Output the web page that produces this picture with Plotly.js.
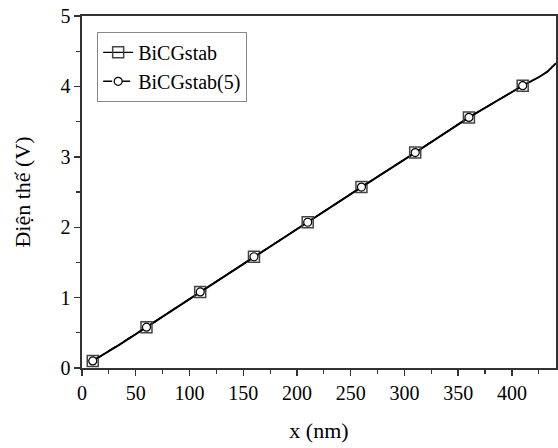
<!DOCTYPE html>
<html><head><meta charset="utf-8">
<script src="https://cdn.plot.ly/plotly-3.0.1.min.js"></script>
<style>body{margin:0;background:#fff}#c{width:558px;height:448px}</style>
</head><body><div id="c"></div>
<script>
// marker positions (nm) and potentials (V)
const markerX = [10, 60, 110, 160, 210, 260, 310, 360, 410];
const bicgstab = [0.10, 0.58, 1.08, 1.58, 2.07, 2.57, 3.06, 3.56, 4.01];
const bicgstab5 = [0.10, 0.58, 1.08, 1.58, 2.07, 2.57, 3.06, 3.56, 4.01];
// continuous solution curve
const lineX = [10, 35, 60, 110, 160, 210, 260, 310, 360, 410, 415, 425, 433, 441];
const lineV = [0.10, 0.33, 0.58, 1.08, 1.58, 2.07, 2.57, 3.06, 3.56, 4.01, 4.05, 4.13, 4.21, 4.33];

const font = {family: '"Liberation Serif", "DejaVu Serif", "Times New Roman", serif', color: '#000'};
const traces = [
  {x: lineX, y: lineV, mode: 'lines', line: {color: '#000', width: 2}, showlegend: false, hoverinfo: 'skip'},
  {x: markerX, y: bicgstab, name: 'BiCGstab', mode: 'lines+markers',
   line: {color: '#000', width: 1.2},
   marker: {symbol: 'square-open', size: 11, color: '#444', line: {width: 1.5}}},
  {x: markerX, y: bicgstab5, name: 'BiCGstab(5)', mode: 'lines+markers',
   line: {color: '#000', width: 1.5, dash: 'dash'},
   marker: {symbol: 'circle', size: 8, color: '#fff', line: {color: '#000', width: 1.2}}}
];
const axisCommon = {
  showline: true, linecolor: '#333', linewidth: 1.6, mirror: true,
  ticks: 'outside', ticklen: 6, tickwidth: 1.4, tickcolor: '#333',
  showgrid: false, zeroline: false,
  tickfont: Object.assign({size: 20}, font)
};
const layout = {
  width: 558, height: 448,
  margin: {l: 82, r: 2, t: 16, b: 80},
  paper_bgcolor: '#fff', plot_bgcolor: '#fff',
  font: font,
  xaxis: Object.assign({}, axisCommon, {
    range: [0, 441], tick0: 0, dtick: 50,
    minor: {ticks: 'outside', ticklen: 4, tickwidth: 1.2, tickcolor: '#333', dtick: 25},
    title: {text: 'x (nm)', font: Object.assign({size: 22}, font), standoff: 20}
  }),
  yaxis: Object.assign({}, axisCommon, {
    range: [0, 5], tick0: 0, dtick: 1,
    minor: {ticks: 'outside', ticklen: 4, tickwidth: 1.2, tickcolor: '#333', dtick: 0.5},
    title: {text: 'Điện thế (V)', font: Object.assign({size: 22}, font), standoff: 24}
  }),
  legend: {
    x: 0.032, y: 0.955, xanchor: 'left', yanchor: 'top',
    bgcolor: '#fff', bordercolor: '#888', borderwidth: 1,
    font: Object.assign({size: 20}, font), tracegroupgap: 0,
    itemwidth: 30, entrywidth: 180
  },
  showlegend: true
};
Plotly.newPlot('c', traces, layout, {staticPlot: true});
</script></body></html>
